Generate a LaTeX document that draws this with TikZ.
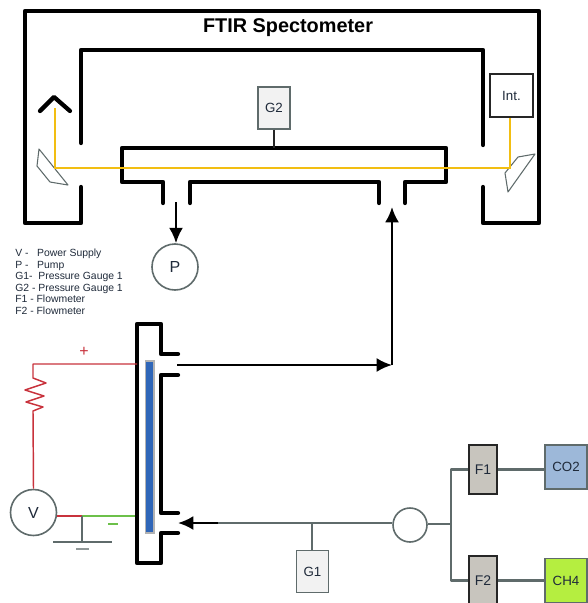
\documentclass[tikz,border=0pt]{standalone}
\usepackage{fontspec}
\setmainfont{Liberation Sans}
\usepackage{tikz}
\usetikzlibrary{arrows.meta}
\definecolor{pipegray}{HTML}{5F6B6B}
\definecolor{beamyellow}{HTML}{F2BE12}
\definecolor{wirered}{HTML}{C8323C}
\definecolor{wiregreen}{HTML}{6CC04A}
\definecolor{plateblue}{HTML}{2F66B8}
\definecolor{flowgray}{HTML}{C8C5BE}
\definecolor{coblue}{HTML}{9DB8D9}
\definecolor{chgreen}{HTML}{B5EE40}
\definecolor{inkblue}{HTML}{1F2A3A}
\tikzset{>={Latex[length=11.5pt,width=10.5pt]}}
\tikzset{wall/.style={line width=3.2pt, line cap=round, line join=round}}
\tikzset{flowline/.style={black, line width=1.8pt}}
\tikzset{beam/.style={beamyellow, line width=1.9pt}}
\tikzset{pipe/.style={pipegray, line width=1.6pt}}
\tikzset{redwire/.style={wirered, line width=1.1pt}}
\tikzset{mirrorplate/.style={pipegray, line width=.8pt, line join=round}}
\tikzset{gauge/.style={draw=pipegray, line width=1.1pt, fill=black!5, minimum width=24pt, minimum height=31.5pt, inner sep=0pt, text=inkblue, font=\fontsize{10}{12}\selectfont}}
\tikzset{flowbox/.style={draw=black!85, line width=1.4pt, fill=flowgray, minimum width=21pt, minimum height=36.5pt, inner sep=0pt, text=inkblue, font=\fontsize{10.5}{12}\selectfont}}
\tikzset{gasbox/.style={draw=pipegray, line width=1.1pt, minimum width=31.5pt, minimum height=33pt, inner sep=0pt, text=inkblue, font=\fontsize{10}{12}\selectfont}}
\tikzset{meter/.style={circle, draw=pipegray, line width=1.2pt, fill=white, minimum size=34.5pt, inner sep=0pt, text=inkblue, font=\fontsize{12}{14}\selectfont}}
\begin{document}
\begin{tikzpicture}[x=0.75pt, y=-0.75pt]
  \useasboundingbox (0, 0) rectangle (587, 603);
  % spectrometer walls
  \draw[wall] (81, 143) -- (81, 50) -- (483, 50) -- (483, 145); %
  \draw[wall] (81, 187) -- (81, 223) -- (25, 223) -- (25, 11) -- (539, 11) -- (539, 223) -- (483, 223) -- (483, 187); %
  \draw[wall] (163, 203) -- (163, 182) -- (122, 182) -- (122, 148) -- (446, 148) -- (446, 182) -- (405, 182) -- (405, 203); %
  \draw[wall] (190, 203) -- (190, 182) -- (379, 182) -- (379, 203); %
  \draw[wall] (40, 111) -- (54, 97) -- (70, 111); %
  \draw[mirrorplate] (39, 149) -- (37, 166) -- (50, 182) -- (68, 185) -- cycle; %
  \draw[mirrorplate] (535, 154) -- (518, 157) -- (505, 173) -- (508, 192) -- cycle; %
  \node[font=\bfseries\fontsize{14.9}{16}\selectfont, inner sep=0pt] (title) at (288, 28) {FTIR Spectometer};
  \node[gauge] (gaugeB) at (274, 108) {G2};
  \node[draw=black!85, line width=1.3pt, minimum width=32pt, minimum height=32pt, inner sep=0pt, text=inkblue, font=\fontsize{10}{12}\selectfont] (intf) at (511.5, 95.5) {Int.};
  \coordinate (roof) at (55, 108); %
  \coordinate (splitL) at (55, 168); %
  \coordinate (splitR) at (510, 168); %
  \coordinate (cellTop) at (274, 148); %
  \draw[black!85, line width=1.3pt] (gaugeB) -- (cellTop); %
  \draw[beam] (roof) -- (splitL) -- (splitR) -- (intf.south -| splitR); %
  % pump and outlet
  \node[meter] (pump) at (175, 267) {P};
  \coordinate (pumpIn) at (176, 202); %
  \draw[flowline, ->] (pumpIn) -- (pump.north -| pumpIn); %
  \node[font=\fontsize{7.8}{8.6}\selectfont, text=inkblue, align=left, anchor=north west, inner sep=0pt] (legend) at (15, 249) {V -~~~Power Supply\\P -~~~Pump\\G1-~~Pressure Gauge 1\\G2 - Pressure Gauge 1\\F1 - Flowmeter\\F2 - Flowmeter};
  % reactor
  \draw[wall] (178, 354) -- (161, 354) -- (161, 324) -- (137, 324) -- (137, 563) -- (161, 563) -- (161, 533) -- (178, 533); %
  \draw[wall] (178, 375) -- (161, 375) -- (161, 513) -- (178, 513); %
  \node[draw=black!30, line width=.8pt, fill=plateblue, minimum width=6.7pt, minimum height=129pt, inner sep=0pt] (plate) at (149.5, 447) {};
  \coordinate (outlet) at (177, 365); %
  \coordinate (corner) at (392, 365); %
  \coordinate (cellIn) at (392, 207); %
  \draw[flowline, ->] (outlet) -- (corner); %
  \draw[flowline, ->] (corner) -- (cellIn); %
  % power supply
  \node[meter, text=inkblue] (supply) at (33.5, 512.5) {V};
  \coordinate (plus) at (137, 364); %
  \coordinate (earth) at (82, 516); %
  \coordinate (minus) at (135, 516); %
  \coordinate (groundTop) at (82, 542); %
  \draw[redwire, line join=round] (supply.north) -- (33, 411) -- (43, 407) -- (26, 402) -- (44, 396) -- (25, 390) -- (46, 383) -- (33, 378) -- (33, 364) -- (plus); %
  \draw[redwire] (supply.east |- earth) -- (earth); %
  \draw[wiregreen, line width=1.1pt] (earth) -- (minus); %
  \draw[pipegray, line width=1.1pt] (earth) -- (groundTop); %
  \draw[pipegray, line width=1.1pt] (53, 542) -- (112, 542); %
  \draw[pipegray!70, line width=1.1pt] (76, 549) -- (89, 549); %
  \node[text=wirered, font=\fontsize{12}{12}\selectfont, inner sep=0pt] (plusSign) at (84, 351.5) {+};
  \draw[wiregreen, line width=1pt] (108, 524) -- (118, 524); %
  % gas feed
  \node[meter, minimum size=25.5pt] (mixer) at (410, 525) {};
  \node[gauge] (gaugeA) at (312.5, 571.5) {G1};
  \node[flowbox] (flowA) at (483, 469.5) {F1};
  \node[flowbox] (flowB) at (483, 580.5) {F2};
  \node[gasbox, fill=coblue] (coTwo) at (566, 467) {CO2};
  \node[gasbox, fill=chgreen] (chFour) at (566, 580.5) {CH4};
  \coordinate (inlet) at (178, 523); %
  \coordinate (feed) at (218, 523); %
  \coordinate (tee) at (312, 523); %
  \coordinate (branch) at (451, 524); %
  \draw[pipe] (mixer.west |- feed) -- (feed); %
  \draw[flowline, ->] (feed) -- (inlet); %
  \draw[pipe] (tee) -- (gaugeA.north -| tee); %
  \draw[pipe] (mixer.east |- branch) -- (branch); %
  \draw[pipe, line join=round] (flowA.west) -- (flowA.west -| branch) -- (flowB.west -| branch) -- (flowB.west); %
  \draw[pipe] (flowA.east) -- (flowA.east -| coTwo.west); %
  \draw[pipe] (flowB.east) -- (chFour.west); %
\end{tikzpicture}
\end{document}
